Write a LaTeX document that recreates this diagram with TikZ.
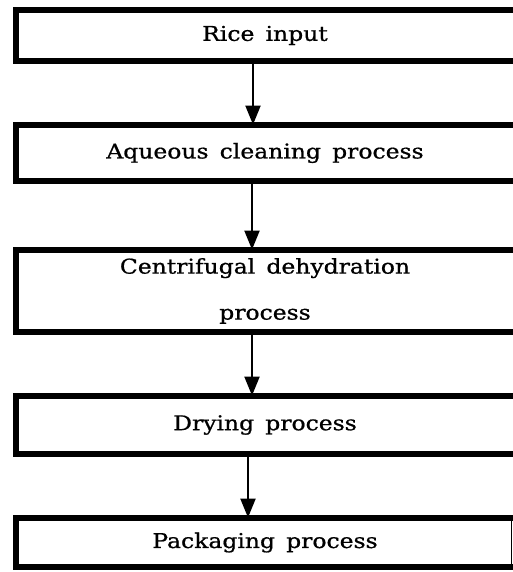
\documentclass[tikz,border=0pt]{standalone}
\usepackage{fontspec}
\setmainfont{DejaVu Serif}[FakeStretch=1.15,FakeBold=0.8,WordSpace=1.5]
\usetikzlibrary{arrows.meta}

\begin{document}
\begin{tikzpicture}[x=0.5pt,y=-0.5pt,>={Triangle[length=9.5pt,width=7.5pt]},
  stage/.style={inner sep=0pt,minimum width=248.5pt,align=center,
    font=\fontsize{10.2}{12}\selectfont},
  frame/.style={line width=3pt,line join=miter},
  flow/.style={->,line width=1pt}]
  \useasboundingbox (0,0) rectangle (513,572);
  % process stages
  \node[stage,minimum height=25pt]   (rice)  at (265,35.5)  {Rice input};
  \node[stage,minimum height=28pt]   (clean) at (265,153)   {Aqueous cleaning process};
  \node[stage,minimum height=41pt]   (dehyd) at (265,291)   {Centrifugal dehydration\\[11pt]process};
  \node[stage,minimum height=29pt]   (dry)   at (265,425)   {Drying process};
  \node[stage,minimum height=24.5pt] (pack)  at (265,542.5) {Packaging process};
  % frames, open to the right
  \foreach \n in {rice,clean,dehyd,dry,pack}
    \draw[frame] ([xshift=20pt]\n.north east) -- (\n.north west)
      -- (\n.south west) -- ([xshift=20pt]\n.south east);
  \draw[line width=0.7pt] ([xshift=-1.25pt]pack.north east) -- ([xshift=-1.25pt]pack.south east);
  % arrows
  \draw[flow] ([xshift=-6pt]rice.south)  -- ([xshift=-6pt]clean.north);
  \draw[flow] ([xshift=-6.5pt]clean.south) -- ([xshift=-6.5pt]dehyd.north);
  \draw[flow] ([xshift=-6.5pt]dehyd.south) -- ([xshift=-6.5pt]dry.north);
  \draw[flow] ([xshift=-8.5pt]dry.south)   -- ([xshift=-8.5pt]pack.north);
\end{tikzpicture}
\end{document}
